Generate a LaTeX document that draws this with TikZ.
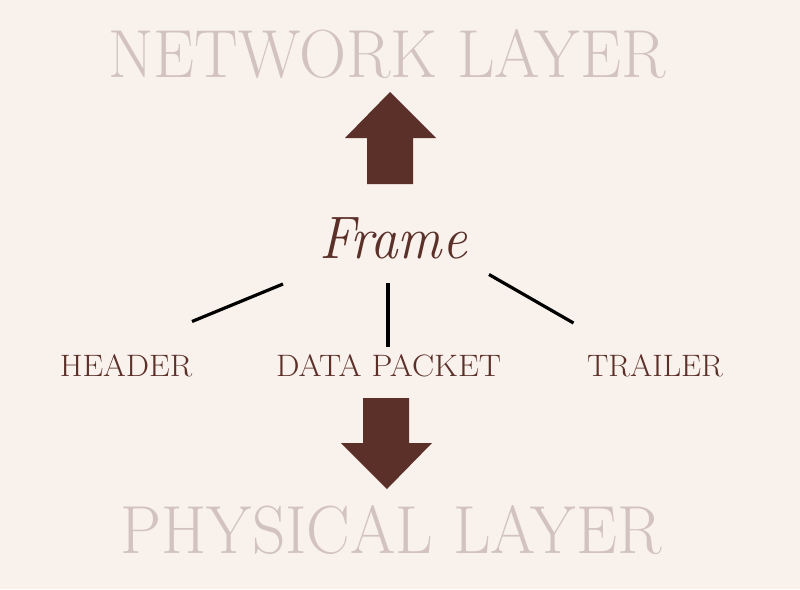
\documentclass[tikz,border=0pt]{standalone}
\usepackage{fontspec}
\definecolor{bg}{HTML}{F9F1EC}
\definecolor{brown}{HTML}{5B3029}
\definecolor{pale}{HTML}{D2C3BE}
\begin{document}
\begin{tikzpicture}[x=1pt,y=-1pt,
  layer/.style={anchor=base,inner sep=0pt,text=pale,font=\fontsize{68}{70}\selectfont},
  part/.style={anchor=base,inner sep=0pt,text=brown,font=\fontsize{31}{33}\selectfont},
  link/.style={line width=3.2pt,black},
  bigarrow/.style={fill=brown,draw=none}]
\useasboundingbox[fill=bg] (0,0) rectangle (800,589);
% layer titles
\node[layer] (net) at (387,77) {\scalebox{0.96}[1]{NETWORK LAYER}};
\node[layer] (phy) at (391,553) {\scalebox{0.96}[1]{PHYSICAL LAYER}};
% arrows
\fill[bigarrow] (367,184) -- (367,138) -- (345,138) -- (390,92) -- (436,138) -- (413,138) -- (413,184) -- cycle;
\fill[bigarrow] (363,398) -- (409,398) -- (409,443) -- (432,443) -- (387,489) -- (341,443) -- (363,443) -- cycle;
% frame
\node[anchor=base,inner sep=0pt,text=brown,font=\fontsize{60}{62}\selectfont\itshape] (frame) at (393,258) {\scalebox{0.92}[1]{Frame}};
% parts
\node[part] (header) at (126,376.7) {\scalebox{1.06}[1]{HEADER}};
\node[part] (data) at (388.5,376.7) {\scalebox{1.07}[1]{DATA PACKET}};
\node[part] (trailer) at (655,376.7) {\scalebox{1.03}[1]{TRAILER}};
% connector ends
\coordinate (l1) at (283,284);
\coordinate (l2) at (192,321.5);
\coordinate (m1) at (388,283);
\coordinate (m2) at (388,347);
\coordinate (r1) at (489,274.5);
\coordinate (r2) at (573.5,323);
\draw[link] (l1) -- (l2);
\draw[link] (m1) -- (m2);
\draw[link] (r1) -- (r2);
\end{tikzpicture}
\end{document}
